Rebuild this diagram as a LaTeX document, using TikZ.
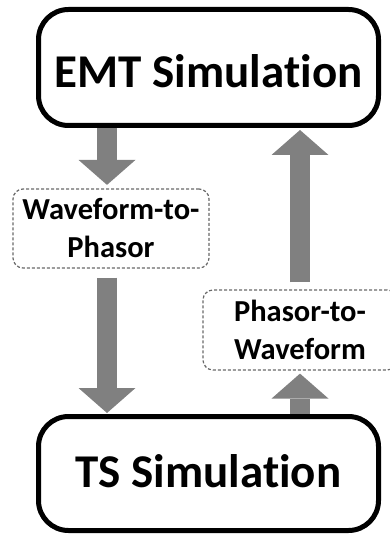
\documentclass[tikz,border=0pt]{standalone}
\usepackage{fontspec}
\setmainfont{Carlito}[Ligatures={NoCommon}]
\usepackage{tikz}
\usetikzlibrary{arrows.meta}

\definecolor{flowgray}{RGB}{128,128,128}
\definecolor{dashgray}{RGB}{105,105,105}

\begin{document}
\begin{tikzpicture}[x=1pt, y=-1pt,
	simbox/.style={rectangle, rounded corners=30pt, draw=black, line width=5pt, minimum width=340pt, font=\fontsize{47}{56}\selectfont\bfseries, inner sep=0pt},
	convbox/.style={rectangle, rounded corners=10pt, draw=dashgray, line width=1.2pt, dash pattern=on 3pt off 2pt, align=center, font=\fontsize{30.5}{38}\selectfont\bfseries, inner sep=0pt},
	flow/.style={draw=flowgray, line width=20pt, -{Triangle[width=57pt, length=25pt, line width=0pt]}}]
	\useasboundingbox (0,0) rectangle (389,534);

	\node [simbox, minimum height=116pt, text height=41pt, text depth=0pt] (emt) at (208.5,67.5) {EMT Simulation};
	\node [simbox, minimum height=114pt, text height=27pt, text depth=0pt] (ts) at (208.5,473.5) {TS Simulation};
	\node [convbox, minimum width=196pt, minimum height=79pt] (wtp) at (111,228.5) {Waveform-to-\\Phasor};
	\node [convbox, minimum width=194pt, minimum height=80pt] (ptw) at (300,330) {Phasor-to-\\Waveform};

	\coordinate (lx) at (107,0);
	\coordinate (rx) at (300,0);

	\draw [flow, shorten >=3.5pt] (emt.south -| lx) -- (wtp.north -| lx);
	\draw [flow, shorten <=9pt, shorten >=1pt] (wtp.south -| lx) -- (ts.north -| lx);
	\draw [flow, shorten >=3pt] (ts.north -| rx) -- (ptw.south -| rx);
	\draw [flow, shorten <=7pt, shorten >=2pt] (ptw.north -| rx) -- (emt.south -| rx);
\end{tikzpicture}
\end{document}
